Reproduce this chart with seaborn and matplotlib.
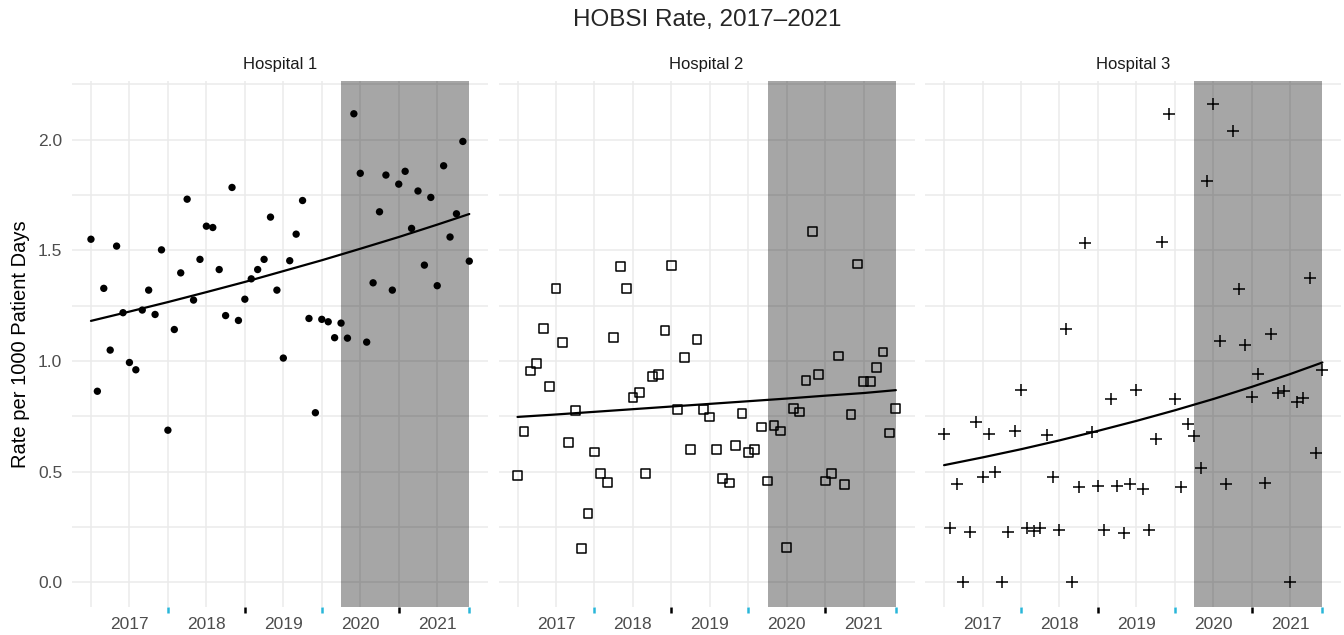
import numpy as np
import pandas as pd
import matplotlib.pyplot as plt
import seaborn as sns

# monthly rates, Jan 2017 .. Dec 2021 (60 months)
months = np.arange(60)

hosp1 = [1.55, 0.863, 1.328, 1.049, 1.519, 1.218, 0.993, 0.96, 1.23, 1.32,
         1.21, 1.502, 0.687, 1.142, 1.398, 1.731, 1.275, 1.459, 1.609, 1.603,
         1.413, 1.205, 1.784, 1.183, 1.279, 1.371, 1.413, 1.459, 1.65, 1.32,
         1.013, 1.453, 1.573, 1.725, 1.192, 0.766, 1.188, 1.177, 1.105, 1.171,
         1.103, 2.117, 1.848, 1.085, 1.353, 1.674, 1.84, 1.32, 1.799, 1.857,
         1.599, 1.768, 1.433, 1.739, 1.34, 1.882, 1.56, 1.665, 1.992, 1.451]

hosp2 = [0.482, 0.68, 0.955, 0.99, 1.147, 0.883, 1.329, 1.084, 0.63, 0.776,
         0.154, 0.312, 0.588, 0.493, 0.452, 1.105, 1.426, 1.329, 0.833, 0.857,
         0.49, 0.93, 0.937, 1.136, 1.43, 0.781, 1.014, 0.601, 1.097, 0.781,
         0.747, 0.601, 0.47, 0.448, 0.618, 0.761, 0.585, 0.601, 0.701, 0.457,
         0.708, 0.683, 0.158, 0.785, 0.769, 0.913, 1.585, 0.937, 0.457, 0.493,
         1.022, 0.443, 0.757, 1.438, 0.906, 0.906, 0.972, 1.04, 0.674, 0.785]

hosp3 = [0.668, 0.247, 0.442, 0.0, 0.228, 0.722, 0.476, 0.671, 0.499, 0.0,
         0.229, 0.683, 0.868, 0.243, 0.231, 0.244, 0.666, 0.476, 0.234, 1.144,
         0.0, 0.429, 1.534, 0.678, 0.434, 0.234, 0.826, 0.435, 0.223, 0.442,
         0.867, 0.419, 0.235, 0.648, 1.536, 2.117, 0.827, 0.429, 0.713, 0.66,
         0.515, 1.814, 2.16, 1.091, 0.442, 2.039, 1.325, 1.07, 0.836, 0.943,
         0.449, 1.124, 0.857, 0.862, 0.0, 0.815, 0.832, 1.377, 0.585, 0.96]

# fitted trend
trend_x = [0, 6, 12, 18, 24, 30, 36, 42, 48, 54, 59]
trend1 = [1.181, 1.223, 1.266, 1.311, 1.357, 1.406, 1.455, 1.507, 1.560, 1.616, 1.664]
trend2 = [0.747, 0.758, 0.770, 0.782, 0.794, 0.806, 0.818, 0.830, 0.843, 0.855, 0.868]
trend3 = [0.529, 0.564, 0.601, 0.641, 0.684, 0.729, 0.777, 0.828, 0.883, 0.941, 0.993]

hospitals = ['Hospital 1', 'Hospital 2', 'Hospital 3']
year_labels = ['2017', '2018', '2019', '2020', '2021']
year_pos = [6, 18, 30, 42, 54]
jan_ticks = [12, 24, 36, 48, 59]
jan_colors = ['#29b6d9', 'black', '#29b6d9', 'black', '#29b6d9']
pandemic_start, pandemic_end = 39, 59

sns.set_theme(style='white')
plt.rcParams['font.family'] = ['Liberation Sans', 'DejaVu Sans']

fig, axes = plt.subplots(1, 3, figsize=(13.44, 6.35), dpi=100, sharey=True)
fig.subplots_adjust(left=0.0536, right=0.998, top=0.8724, bottom=0.0441, wspace=0.025)

series = [hosp1, hosp2, hosp3]
trends = [trend1, trend2, trend3]
marker_kw = [
    dict(marker='o', s=28, color='black', edgecolor='none'),
    dict(marker='s', s=40, facecolor='none', edgecolor='black', linewidth=1.1),
    dict(marker='+', s=75, color='black', linewidth=1.1),
]

for ax, name, vals, tr, mk in zip(axes, hospitals, series, trends, marker_kw):
    df = pd.DataFrame({'month': months, 'rate': vals})
    ax.set_axisbelow(True)
    ax.axvspan(pandemic_start, pandemic_end, color='black', alpha=0.35, lw=0, zorder=1)
    sns.scatterplot(data=df, x='month', y='rate', ax=ax, zorder=3, **mk)
    sns.lineplot(x=trend_x, y=tr, ax=ax, color='black', linewidth=1.6, zorder=4)

    ax.set_xlim(-2.95, 61.95)
    ax.set_ylim(-0.112, 2.265)
    grid_x = list(range(0, 60, 6))
    ax.set_xticks(grid_x, [year_labels[year_pos.index(g)] if g in year_pos else '' for g in grid_x])
    ax.xaxis.remove_overlapping_locs = False
    ax.set_xticks(jan_ticks, minor=True)
    yt = np.arange(0, 2.26, 0.25)
    ax.set_yticks(yt, [f'{v:.1f}' if abs(v * 2 - round(v * 2)) < 1e-9 else '' for v in yt])
    ax.tick_params(axis='x', which='major', length=0, pad=7, labelsize=12.5, labelcolor='#4d4d4d')
    ax.tick_params(axis='y', which='major', length=0, pad=7, labelsize=12.5, labelcolor='#4d4d4d')
    ax.tick_params(axis='x', which='minor', length=4, width=1.8, bottom=True)
    ax.grid(True, which='major', color='#ebebeb', linewidth=1.1)
    for s in ax.spines.values():
        s.set_visible(False)
    ax.set_xlabel('')
    ax.set_ylabel('')
    ax.set_title(name, fontsize=12, color='#1a1a1a', pad=9)

axes[0].set_ylabel('Rate per 1000 Patient Days', fontsize=14.5, color='black', labelpad=6)
fig.suptitle('HOBSI Rate, 2017\u20132021', fontsize=17.5, y=0.968, va='center', x=0.526)

fig.canvas.draw()
for ax in axes:
    for t, c in zip(ax.xaxis.get_minor_ticks(), jan_colors):
        t.tick1line.set_color(c)
        t.tick1line.set_markeredgecolor(c)

fig.savefig('out.png', dpi=100)
